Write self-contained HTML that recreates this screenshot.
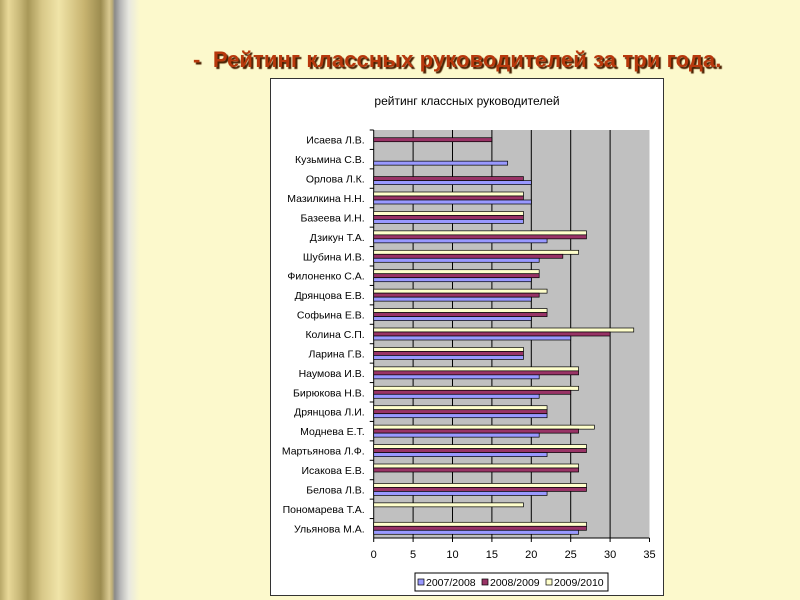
<!DOCTYPE html>
<html><head><meta charset="utf-8"><style>
body{margin:0;width:800px;height:600px;overflow:hidden;background:#fcf9cc;font-family:"Liberation Sans","Noto Sans CJK SC",sans-serif;position:relative}
#deco{position:absolute;left:0;top:0;width:140px;height:600px;background:linear-gradient(90deg,#b8a868 0,#e8d898 6%,#c8b878 14%,#a89858 20%,#d8c888 30%,#f0e4a8 42%,#c8b470 60%,#9c8c50 72%,#d8c890 78%,#c0b078 80%,#8a8a8a 82%,#b8b8b8 86%,#e8e8e0 92%,#fcf9cc 100%)}
#title{position:absolute;left:193px;top:47px;font-size:22px;font-weight:bold;color:#b8380c;text-shadow:2px 2px 1px #4a2000;white-space:nowrap;letter-spacing:0.1px}
#box{position:absolute;left:270px;top:78px;width:394px;height:518px;background:#fff;border:1px solid #333;box-sizing:border-box}
</style></head><body>
<div id="deco"></div>
<div id="title">-&nbsp; Рейтинг классных руководителей за три года.</div>
<div id="box"></div>
<svg id="chart" width="800" height="600" style="position:absolute;left:0;top:0"></svg>
<script>
const categories=["Исаева Л.В.","Кузьмина С.В.","Орлова Л.К.","Мазилкина Н.Н.","Базеева И.Н.","Дзикун Т.А.","Шубина И.В.","Филоненко С.А.","Дрянцова Е.В.","Софьина Е.В.","Колина С.П.","Ларина Г.В.","Наумова И.В.","Бирюкова Н.В.","Дрянцова Л.И.","Моднева Е.Т.","Мартьянова Л.Ф.","Исакова Е.В.","Белова Л.В.","Пономарева Т.А.","Ульянова М.А."];
const s2007=[0,17,20,20,19,22,21,20,20,20,25,19,21,21,22,21,22,0,22,0,26];
const s2008=[15,0,19,19,19,27,24,21,21,22,30,19,26,25,22,26,27,26,27,0,27];
const s2009=[0,0,0,19,19,27,26,21,22,22,33,19,26,26,22,28,27,26,27,19,27];
const ticks=[0,5,10,15,20,25,30,35];
const seriesNames=["2007/2008","2008/2009","2009/2010"];
const NS="http://www.w3.org/2000/svg";
const svg=document.getElementById('chart');
const X0=373.7,X1=649.5,Y0=130,Y1=538,MAX=35;
const x=v=>X0+(X1-X0)*v/MAX;
const band=(Y1-Y0)/categories.length;
function mk(t,a,p){const e=document.createElementNS(NS,t);for(const k in a)e.setAttribute(k,a[k]);(p||svg).appendChild(e);return e;}
const plot=mk('rect',{x:X0,y:Y0,width:X1-X0,height:Y1-Y0,fill:'#c0c0c0'});


const t=mk('text',{x:467,y:105,'font-size':12,'text-anchor':'middle',fill:'#000'});
t.textContent='рейтинг классных руководителей';


ticks.forEach(v=>{
  if(v>0&&v<MAX){const g=mk('line',{x1:x(v),x2:x(v),y1:Y0,y2:Y1,stroke:'#000','stroke-width':1});
  
  }
  mk('line',{x1:x(v),x2:x(v),y1:Y1,y2:Y1+4,stroke:'#000'});
  const l=mk('text',{x:x(v),y:Y1+20,'font-size':11,'text-anchor':'middle'});
  l.textContent=v;
  
  
});
mk('line',{x1:X0,x2:X0,y1:Y0,y2:Y1,stroke:'#000'});
mk('line',{x1:X0,x2:X1,y1:Y1,y2:Y1,stroke:'#000'});
const cols=['#9999ff','#993366','#ffffcc'];
const bh=4;
categories.forEach((c,i)=>{
  const yc=Y0+band*i+band/2;
  mk('line',{x1:X0-4,x2:X0,y1:Y0+band*i,y2:Y0+band*i,stroke:'#000'});
  const l=mk('text',{x:X0-9,y:yc+4,'font-size':10.5,'text-anchor':'end'});
  l.textContent=c;
  
  
  [[s2009,2,-6],[s2008,1,-2],[s2007,0,2]].forEach(([arr,ci,off])=>{
    const v=arr[i];if(!v)return;
    const r=mk('rect',{x:X0,y:yc+off,width:x(v)-X0,height:bh,fill:cols[ci],stroke:'#000','stroke-width':0.7});
    
    
  });
});
const lg=mk('rect',{x:415,y:573,width:193,height:18,fill:'#fff',stroke:'#000'});


seriesNames.forEach((n,i)=>{
  const lx=418+i*64;
  mk('rect',{x:lx,y:579,width:6,height:6,fill:cols[i],stroke:'#000','stroke-width':0.7});
  const tt=mk('text',{x:lx+8,y:586,'font-size':10.5});
  tt.textContent=n;
  
  
});
</script>
</body></html>
